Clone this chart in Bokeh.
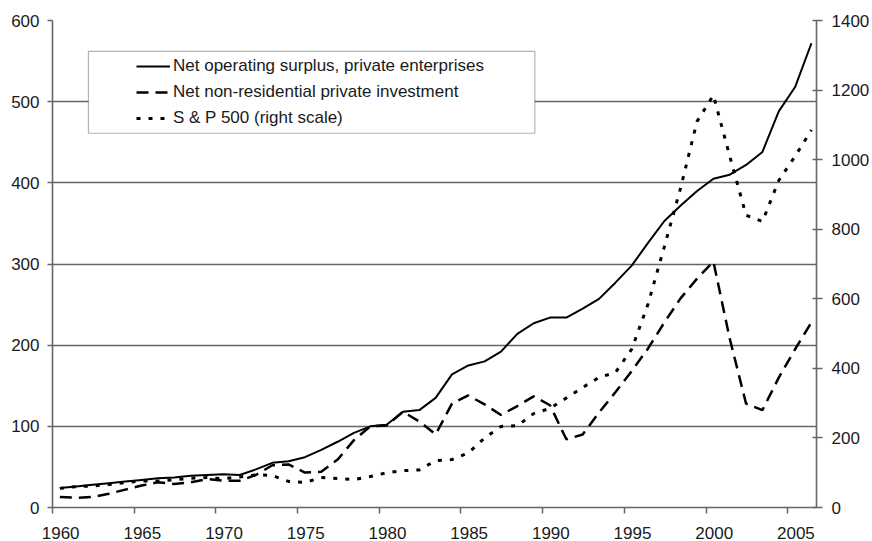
from bokeh.plotting import figure
from bokeh.models import Range1d, LinearAxis, FixedTicker, Legend, LegendItem, BoxAnnotation
from bokeh.embed import file_html
from bokeh.resources import INLINE

years = list(range(1960, 2007))

surplus = [24, 26, 28, 30, 32, 34, 36, 37, 39, 40,
           41, 40, 47, 55, 57, 62, 71, 81, 92, 100,
           102, 118, 120, 135, 164, 175, 180, 192, 214, 227,
           234, 234, 245, 257, 277, 298, 326, 353, 372, 390,
           405, 410, 422, 438, 488, 518, 572]

investment = [13, 12, 13, 17, 22, 27, 31, 29, 31, 35,
              33, 33, 40, 52, 53, 43, 44, 59, 83, 100,
              101, 118, 106, 90, 128, 138, 127, 114, 125, 137,
              126, 84, 90, 117, 142, 168, 196, 228, 258, 282,
              303, 208, 128, 120, 160, 195, 228]

sp500 = [55, 60, 62, 66, 72, 76, 76, 80, 84, 86,
         83, 88, 94, 92, 75, 72, 86, 83, 80, 89,
         100, 106, 108, 135, 138, 157, 200, 233, 235, 270,
         285, 315, 345, 374, 388, 455, 585, 750, 920, 1110,
         1185, 1010, 840, 822, 940, 1010, 1085]

x_ticks = [1960, 1965, 1970, 1975, 1980, 1985, 1990, 1995, 2000, 2005]
left_ticks = [0, 100, 200, 300, 400, 500, 600]
right_ticks = [0, 200, 400, 600, 800, 1000, 1200, 1400]

labels = ["Net operating surplus, private enterprises",
          "Net non-residential private investment",
          "S & P 500 (right scale)"]

FONT = "Liberation Sans"
AX = "#666666"
TXT = "#1a1a1a"

# categories sit in the middle of each yearly slot (Excel-style category axis)
xpos = [y + 0.45 for y in years]
label_pos = [t + 0.5 for t in x_ticks]

p = figure(width=872, height=541, x_range=Range1d(1960, 2006.76), y_range=Range1d(0, 600),
           output_backend="svg", toolbar_location=None,
           min_border_left=52, min_border_right=55, min_border_top=20, min_border_bottom=33)
p.extra_y_ranges = {"right": Range1d(0, 1400)}
p.outline_line_color = None
p.background_fill_color = "white"

p.xgrid.visible = False
p.ygrid.ticker = FixedTicker(ticks=left_ticks)
p.ygrid.grid_line_color = AX
p.ygrid.grid_line_width = 1.6

# bottom axis: labels centred on the year slots, tick marks (minor) at slot boundaries
xa = p.xaxis[0]
xa.ticker = FixedTicker(ticks=label_pos, minor_ticks=x_ticks)
xa.major_label_overrides = {lp: str(t) for lp, t in zip(label_pos, x_ticks)}
xa.axis_line_color = AX
xa.axis_line_width = 1.6
xa.major_tick_line_color = None
xa.major_tick_in = 0
xa.major_tick_out = 0
xa.minor_tick_line_color = AX
xa.minor_tick_line_width = 1.5
xa.minor_tick_in = 0
xa.minor_tick_out = 6
xa.major_label_standoff = 13
xa.major_label_text_font = FONT
xa.major_label_text_font_size = "17px"
xa.major_label_text_color = TXT

ya = p.yaxis[0]
ya.ticker = FixedTicker(ticks=left_ticks)
ya.axis_line_color = AX
ya.axis_line_width = 1.6
ya.major_tick_line_color = AX
ya.major_tick_line_width = 1.5
ya.minor_tick_line_color = None
ya.major_tick_in = 0
ya.major_tick_out = 5
ya.major_label_standoff = 8
ya.major_label_text_font = FONT
ya.major_label_text_font_size = "17px"
ya.major_label_text_color = TXT

rax = LinearAxis(y_range_name="right", ticker=FixedTicker(ticks=right_ticks))
rax.axis_line_color = AX
rax.axis_line_width = 1.6
rax.major_tick_line_color = AX
rax.major_tick_line_width = 1.5
rax.minor_tick_line_color = None
rax.major_tick_in = 4
rax.major_tick_out = 6
rax.major_label_standoff = 9
rax.major_label_text_font = FONT
rax.major_label_text_font_size = "17px"
rax.major_label_text_color = TXT
p.add_layout(rax, "right")

r1 = p.line(xpos, surplus, line_color="black", line_width=2)
r2 = p.line(xpos, investment, line_color="black", line_width=2.5, line_dash="12 7")
r3 = p.line(xpos, sp500, line_color="black", line_width=3, line_dash="4 8", y_range_name="right")

box = BoxAnnotation(left=1962.2, right=1989.52, bottom=461.1, top=561.9,
                    fill_color="white", fill_alpha=1.0, line_color="black", line_width=1.2)
p.add_layout(box)

legend = Legend(items=[LegendItem(label=labels[0], renderers=[r1]),
                       LegendItem(label=labels[1], renderers=[r2]),
                       LegendItem(label=labels[2], renderers=[r3])],
                location=(84, 379), background_fill_alpha=0, border_line_color=None,
                padding=0, spacing=6, margin=0, glyph_width=34, glyph_height=20,
                label_height=20, label_standoff=3, label_text_font=FONT,
                label_text_font_size="17px", label_text_color=TXT)
p.add_layout(legend)

open("out.html", "w").write(file_html(p, INLINE))
